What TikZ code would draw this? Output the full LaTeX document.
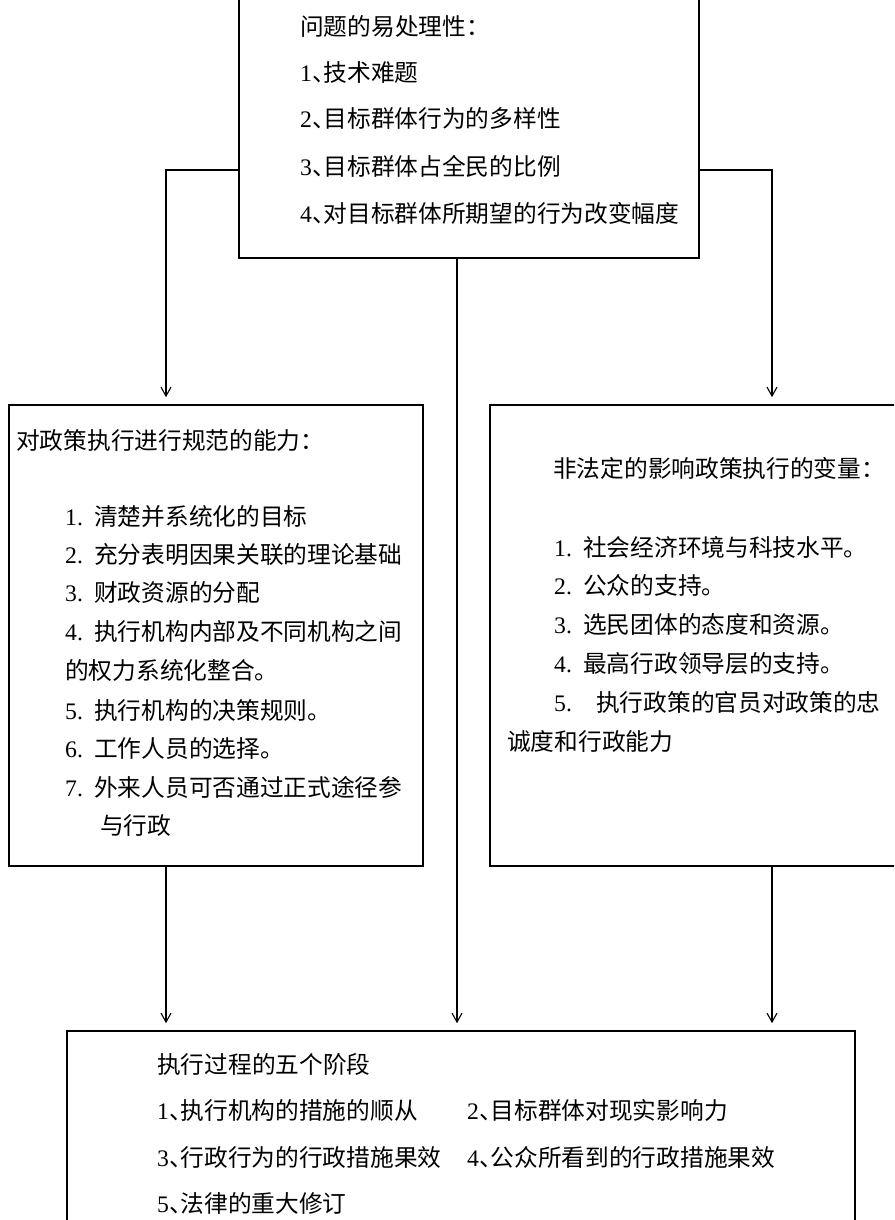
\documentclass[tikz,border=0pt]{standalone}
\usepackage{fontspec}
\setmainfont{Liberation Serif}
\newfontfamily\cjk{Noto Sans CJK SC}
\usetikzlibrary{arrows.meta}
\newcommand\dun{{\cjk 、}\kern-12pt}
\newcommand\itm[2]{\makebox[29pt][l]{#1}{\cjk #2}}
\tikzset{
  box/.style={draw, line width=1.6pt, rectangle, inner sep=0pt},
  conn/.style={line width=1.1pt, -{Straight Barb[length=9pt,width=10pt]}, shorten >=7pt},
  txt/.style={anchor=base west, inner sep=0pt, font=\fontsize{23.7}{28}\selectfont}
}
\begin{document}
\begin{tikzpicture}[x=1pt,y=1pt]
\useasboundingbox (0,0) rectangle (894,-1220);
\clip (0,0) rectangle (894,-1220);
\fill[white] (0,0) rectangle (894,-1220);
% boxes
\node[box, minimum width=460pt, minimum height=268pt] (top) at (469,-124) {};
\node[box, minimum width=414pt, minimum height=461pt] (lft) at (216,-635.5) {};
\node[box, minimum width=420pt, minimum height=461pt] (rgt) at (700,-635.5) {};
\node[box, minimum width=788pt, minimum height=218pt] (bot) at (461,-1140) {};
% routing points
\coordinate (cl) at (166,-170);
\coordinate (cr) at (772,-170);
\coordinate (cm) at (457,0);
% connectors
\draw[conn] (top.west |- cl) -- (cl) -- (lft.north -| cl);
\draw[conn] (top.east |- cr) -- (cr) -- (rgt.north -| cr);
\draw[conn] (top.south -| cm) -- (bot.north -| cm);
\draw[conn] (lft.south -| cl) -- (bot.north -| cl);
\draw[conn] (rgt.south -| cr) -- (bot.north -| cr);
% top box text
\node[txt] (t0) at (300,-36) {\cjk 问题的易处理性：};
\node[txt] (t1) at (300,-82) {1\dun{\cjk 技术难题}};
\node[txt] (t2) at (300,-128) {2\dun{\cjk 目标群体行为的多样性}};
\node[txt] (t3) at (300,-175) {3\dun{\cjk 目标群体占全民的比例}};
\node[txt] (t4) at (300,-222) {4\dun{\cjk 对目标群体所期望的行为改变幅度}};
% left box text
\node[txt] (l0) at (16,-449) {\cjk 对政策执行进行规范的能力：};
\node[txt] (l1) at (65,-525) {\itm{1.}{清楚并系统化的目标}};
\node[txt] (l2) at (65,-563) {\itm{2.}{充分表明因果关联的理论基础}};
\node[txt] (l3) at (65,-601) {\itm{3.}{财政资源的分配}};
\node[txt] (l4) at (65,-640) {\itm{4.}{执行机构内部及不同机构之间}};
\node[txt] (l4b) at (65,-679) {\cjk 的权力系统化整合。};
\node[txt] (l5) at (65,-719) {\itm{5.}{执行机构的决策规则。}};
\node[txt] (l6) at (65,-757) {\itm{6.}{工作人员的选择。}};
\node[txt] (l7) at (65,-796) {\itm{7.}{外来人员可否通过正式途径参}};
\node[txt] (l7b) at (100,-834) {\cjk 与行政};
% right box text
\node[txt] (r0) at (553,-477) {\cjk 非法定的影响政策执行的变量：};
\node[txt] (r1) at (554,-556) {\itm{1.}{社会经济环境与科技水平。}};
\node[txt] (r2) at (554,-594) {\itm{2.}{公众的支持。}};
\node[txt] (r3) at (554,-633) {\itm{3.}{选民团体的态度和资源。}};
\node[txt] (r4) at (554,-672) {\itm{4.}{最高行政领导层的支持。}};
\node[txt] (r5) at (554,-711) {\makebox[42pt][l]{5.}{\cjk 执行政策的官员对政策的忠}};
\node[txt] (r5b) at (507,-750) {\cjk 诚度和行政能力};
% bottom box text
\node[txt] (b0) at (157,-1073) {\cjk 执行过程的五个阶段};
\node[txt] (b1) at (157,-1119) {1\dun{\cjk 执行机构的措施的顺从}};
\node[txt] (b2) at (467,-1119) {2\dun{\cjk 目标群体对现实影响力}};
\node[txt] (b3) at (157,-1166) {3\dun{\cjk 行政行为的行政措施果效}};
\node[txt] (b4) at (467,-1166) {4\dun{\cjk 公众所看到的行政措施果效}};
\node[txt] (b5) at (157,-1212) {5\dun{\cjk 法律的重大修订}};
\end{tikzpicture}
\end{document}
